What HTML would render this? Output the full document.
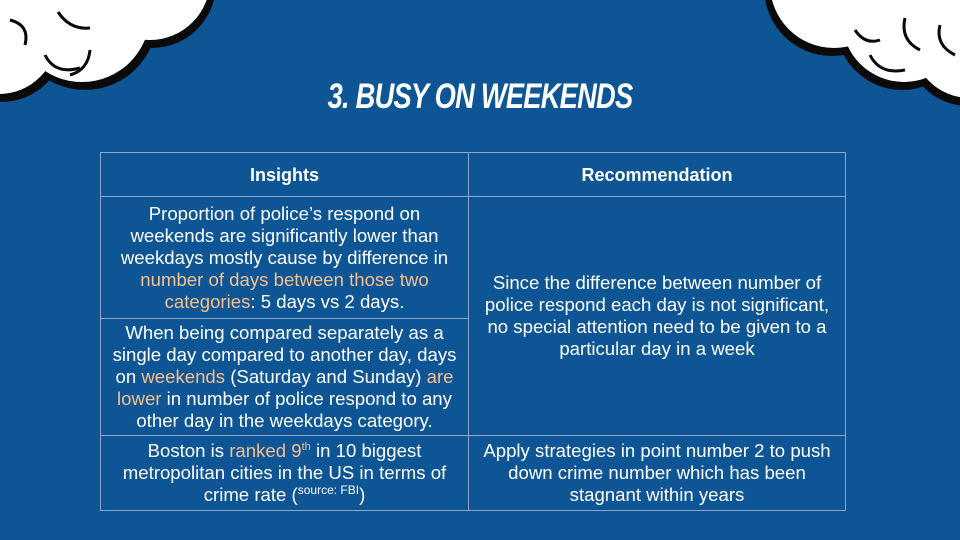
<!DOCTYPE html>
<html><head><meta charset="utf-8"><style>
body{margin:0;width:960px;height:540px;background:#0d5595;overflow:hidden;position:relative;font-family:"Liberation Sans",sans-serif;color:#fff}
#title{position:absolute;left:0;width:960px;top:77px;text-align:center;font-size:35px;font-weight:bold;font-style:italic;letter-spacing:-1px;transform:scaleX(0.78)}
table{position:absolute;left:100px;top:152px;width:746px;border-collapse:collapse}
td,th{border:1px solid #8aa6c8;text-align:center;font-size:18.6px;line-height:22px;padding:0 2px;vertical-align:middle;white-space:nowrap}
th{height:43px;font-weight:bold;font-size:18px}
.o{color:#f5c08e}
</style></head><body>
<svg width="960" height="540" style="position:absolute;left:0;top:0">
<g fill="#0a0a0a">
<circle cx="152" cy="-16" r="64"/><circle cx="85" cy="18" r="72"/><circle cx="2" cy="40" r="62"/>
<circle cx="832" cy="-12" r="68"/><circle cx="902" cy="24" r="66"/><circle cx="968" cy="44" r="62"/>
</g>
<g fill="#fff">
<circle cx="150" cy="-20" r="60"/><circle cx="82" cy="14" r="68"/><circle cx="-1" cy="36" r="58"/>
<circle cx="834" cy="-16" r="64"/><circle cx="904" cy="20" r="62"/><circle cx="970" cy="40" r="58"/>
</g>
<g fill="none" stroke="#0a0a0a" stroke-width="3">
<path d="M58 12 Q70 30 90 28"/><path d="M45 55 Q55 75 80 68"/><path d="M90 50 Q88 70 70 75"/><path d="M10 20 Q30 25 25 45"/>
<path d="M855 30 Q865 45 880 40"/><path d="M870 55 Q880 75 905 70"/><path d="M905 18 Q900 40 920 50"/><path d="M940 25 Q935 45 955 55"/>
</g>
</svg>
<div id="title">3. BUSY ON WEEKENDS</div>
<table>
<tr><th style="width:363px">Insights</th><th>Recommendation</th></tr>
<tr><td style="height:121px">Proportion of police’s respond on<br>weekends are significantly lower than<br>weekdays mostly cause by difference in<br><span class="o">number of days between those two<br>categories</span>: 5 days vs 2 days.</td>
<td rowspan="2">Since the difference between number of<br>police respond each day is not significant,<br>no special attention need to be given to a<br>particular day in a week</td></tr>
<tr><td style="height:116px">When being compared separately as a<br>single day compared to another day, days<br>on <span class="o">weekends</span> (Saturday and Sunday) <span class="o">are<br>lower</span> in number of police respond to any<br>other day in the weekdays category.</td></tr>
<tr><td style="height:74px">Boston is <span class="o">ranked 9<sup style="font-size:11px;line-height:0">th</sup></span> in 10 biggest<br>metropolitan cities in the US in terms of<br>crime rate (<sup style="font-size:12px;line-height:0">source: FBI</sup>)</td>
<td>Apply strategies in point number 2 to push<br>down crime number which has been<br>stagnant within years</td></tr>
</table>
</body></html>
